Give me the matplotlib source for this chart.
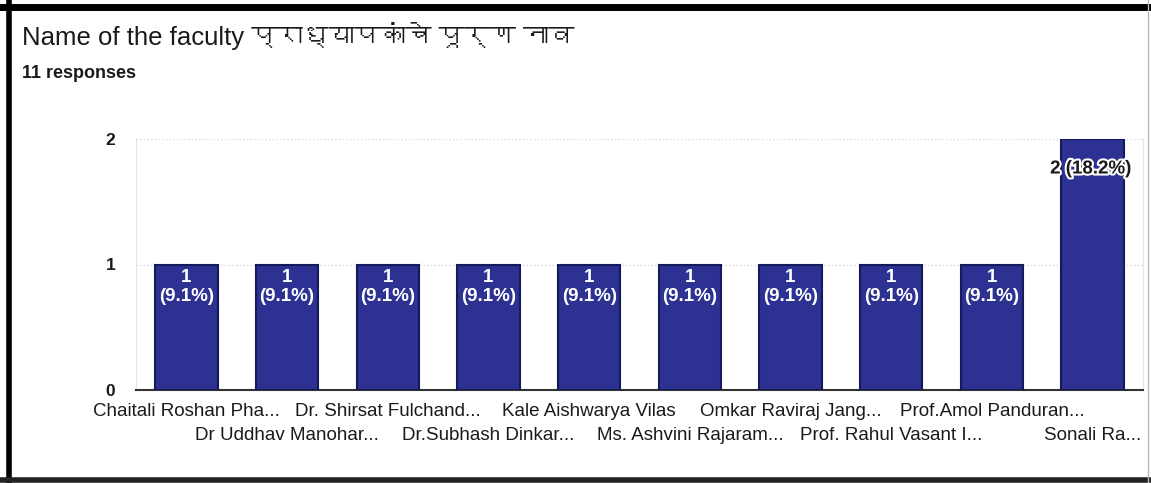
import matplotlib
matplotlib.use("Agg")
import matplotlib.pyplot as plt
import matplotlib.patheffects as pe
from matplotlib import font_manager
from matplotlib.ft2font import FT2Font
import numpy as np

# chart data
title = "Name of the faculty प्राध्यापकांचे पूर्ण नाव"
subtitle = "11 responses"
names = ["Chaitali Roshan Pha...", "Dr Uddhav Manohar...", "Dr. Shirsat Fulchand...",
         "Dr.Subhash Dinkar...", "Kale Aishwarya Vilas", "Ms. Ashvini Rajaram...",
         "Omkar Raviraj Jang...", "Prof. Rahul Vasant I...", "Prof.Amol Panduran...",
         "Sonali Ra..."]
counts = [1, 1, 1, 1, 1, 1, 1, 1, 1, 2]
total = 11
yticks = [0, 1, 2]

# look for a font that has devanagari glyphs
deva_font = None
for f in font_manager.fontManager.ttflist:
    try:
        if 0x092A in FT2Font(f.fname).get_charmap():
            deva_font = f.name
            break
    except Exception:
        pass
title_family = ["Liberation Sans"] + ([deva_font] if deva_font else []) + ["DejaVu Sans"]

plt.rcParams["font.family"] = ["Liberation Sans", "DejaVu Sans"]

W, H = 1151, 483
fig = plt.figure(figsize=(W / 100, H / 100), dpi=100)
ax = fig.add_axes([136 / W, 1 - 390 / H, (1143 - 136) / W, (390 - 139) / H])

bar_col = "#2c3192"
edge_col = "#151a5c"
x = np.arange(len(names))
bars = ax.bar(x, counts, width=0.62, color=bar_col, edgecolor=edge_col, linewidth=1.5, zorder=3)

ax.set_xlim(-0.5, len(names) - 0.5)
ax.set_ylim(0, 2)
ax.set_yticks(yticks)
ax.set_yticklabels([str(t) for t in yticks], fontsize=12.5, fontweight="bold", color="#1a1a1a")
ax.tick_params(axis="y", length=0, pad=15)
ax.set_xticks([])
ax.grid(axis="y", color="#d8d8d8", linestyle=":", linewidth=1, zorder=0)

ax.spines["top"].set_visible(False)
ax.spines["bottom"].set_color("#333333")
ax.spines["bottom"].set_linewidth(1.5)
ax.spines["left"].set_color("#dddddd")
ax.spines["left"].set_linestyle(":")
ax.spines["right"].set_color("#dddddd")
ax.spines["right"].set_linestyle(":")

# category labels in two staggered rows
for i, name in enumerate(names):
    dy = -22 if i % 2 == 0 else -45
    ax.annotate(name, (i, 0), xytext=(0, dy), textcoords="offset pixels",
                ha="center", va="center", fontsize=13.5, color="#1a1a1a", annotation_clip=False)

# value labels
for i, c in enumerate(counts):
    pct = c / total * 100
    if c < max(counts):
        ax.annotate(f"{c}\n({pct:.1f}%)", (i, c), xytext=(0, -5), textcoords="offset pixels",
                    ha="center", va="top", fontsize=13.5, fontweight="bold", color="white",
                    linespacing=1.15, zorder=5)
    else:
        ax.annotate(f"{c} ({pct:.1f}%)", (i, c), xytext=(-2, -30), textcoords="offset pixels",
                    ha="center", va="center", fontsize=13.5, fontweight="bold", color="#1a1a1a",
                    zorder=5, path_effects=[pe.withStroke(linewidth=3, foreground="white")])

fig.text(22 / W, 1 - 36 / H, title, fontsize=18.5, color="#1a1a1a", va="center", ha="left",
         family=title_family)
fig.text(22 / W, 1 - 74 / H, subtitle, fontsize=13, fontweight="bold", color="#1a1a1a",
         va="center", ha="left")

# photo frame border
fig.add_artist(plt.Line2D([0, 1], [1 - 6.5 / H, 1 - 6.5 / H], transform=fig.transFigure, color="black", lw=5))
fig.add_artist(plt.Line2D([9 / W, 9 / W], [0, 1], transform=fig.transFigure, color="black", lw=4))
fig.add_artist(plt.Line2D([0, 1], [1 - 479.5 / H, 1 - 479.5 / H], transform=fig.transFigure, color="#222222", lw=4))
fig.add_artist(plt.Line2D([1148 / W, 1148 / W], [0, 1], transform=fig.transFigure, color="#bbbbbb", lw=1))

fig.savefig("out.png", dpi=100)
